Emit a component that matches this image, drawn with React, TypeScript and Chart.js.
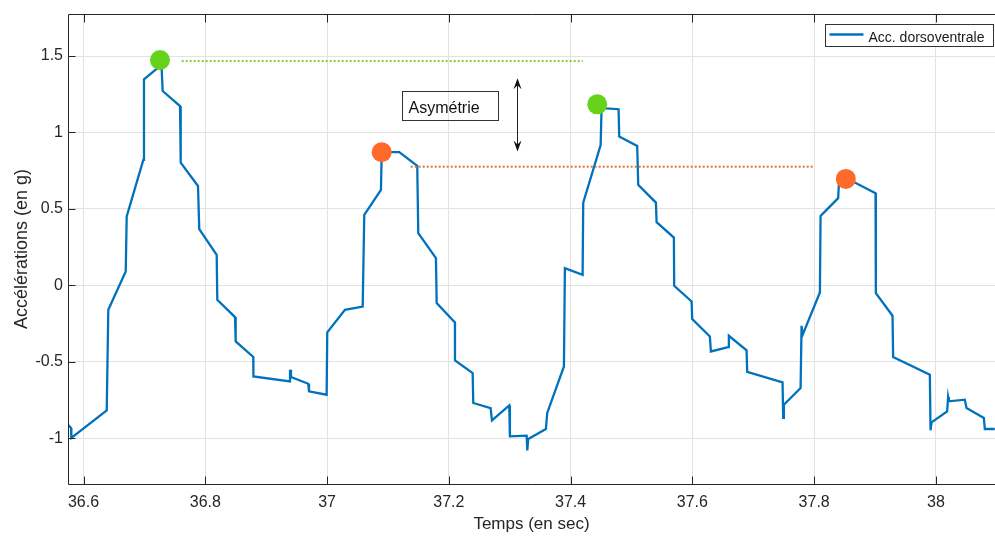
import React, { useEffect, useRef } from "react";
import { Chart, registerables } from "chart.js";

Chart.register(...registerables);

// ---- data ----
const times = [
  36.5745, 36.5795, 36.58, 36.6381, 36.6407, 36.6693, 36.6709, 36.6982, 36.6993, 36.7245,
  36.7284, 36.73, 36.7585, 36.7596, 36.788, 36.7901, 36.8187, 36.8197, 36.8488, 36.8499,
  36.8788, 36.879, 36.9391, 36.9392, 36.9407, 36.9691, 36.9703, 36.9993, 37.0003, 37.0294,
  37.0585, 37.0611, 37.0885, 37.0897, 37.1186, 37.1481, 37.1498, 37.1788, 37.18, 37.21,
  37.2101, 37.2391, 37.2401, 37.2686, 37.2708, 37.2992, 37.3003, 37.3278, 37.3288, 37.3304,
  37.3594, 37.3616, 37.389, 37.3906, 37.4197, 37.4207, 37.4493, 37.4509, 37.458, 37.4788,
  37.4798, 37.5094, 37.511, 37.5401, 37.5412, 37.5696, 37.5701, 37.5987, 37.5997, 37.6287,
  37.6304, 37.6588, 37.6599, 37.689, 37.69, 37.7481, 37.7491, 37.7503, 37.7777, 37.7793,
  37.781, 37.8094, 37.8105, 37.8394, 37.8411, 37.8667, 37.9008, 37.9013, 37.9287, 37.9297,
  37.99, 37.9911, 37.9928, 38.0184, 38.02, 38.0212, 38.0474, 38.0502, 38.0787, 38.0803, 38.0967,
];
const accel = [
  -0.912, -0.933, -0.999, -0.818, -0.16, 0.09, 0.45, 0.82, 1.348, 1.43,
  1.41, 1.271, 1.173, 0.803, 0.65, 0.367, 0.199, -0.095, -0.208, -0.367,
  -0.469, -0.596, -0.629, -0.552, -0.6, -0.644, -0.694, -0.716, -0.308, -0.16,
  -0.139, 0.461, 0.624, 0.871, 0.871, 0.781, 0.341, 0.178, -0.116, -0.243,
  -0.492, -0.574, -0.77, -0.803, -0.884, -0.786, -0.988, -0.984, -1.08, -1.005,
  -0.94, -0.835, -0.531, 0.112, 0.069, 0.541, 0.918, 1.169, 1.158, 1.152,
  0.973, 0.912, 0.657, 0.541, 0.413, 0.312, -0.003, -0.106, -0.221, -0.335,
  -0.433, -0.404, -0.33, -0.426, -0.567, -0.635, -0.868, -0.781, -0.672, -0.265,
  -0.324, -0.047, 0.454, 0.57, 0.701, 0.672, 0.603, -0.051, -0.199, -0.469,
  -0.585, -0.949, -0.897, -0.825, -0.731, -0.759, -0.748, -0.803, -0.868, -0.94, -0.94,
];
const greenPeakT = [36.7256, 37.4437];
const greenPeakV = [1.474, 1.184];
const orangePeakT = [37.0897, 37.852];
const orangePeakV = [0.871, 0.696];
const greenRefT = [36.7612, 37.4199];
const greenRefV = [1.467, 1.467];
const orangeRefT = [37.1373, 37.7984];
const orangeRefV = [0.776, 0.776];
const xTicks = [36.6, 36.8, 37, 37.2, 37.4, 37.6, 37.8, 38];
const yTicks = [-1, -0.5, 0, 0.5, 1, 1.5];
const xRange = [36.5745, 38.097];
const yRange = [-1.3, 1.775];
const seriesLabel = "Acc. dorsoventrale";
const xTitle = "Temps (en sec)";
const yTitle = "Accélérations (en g)";
const noteText = "Asymétrie";
const noteAnchor = [37.1225, 1.271]; // top-left of the text box (data units)
const arrowT = 37.3113;
const arrowV = [1.354, 0.875];

// ---- styles ----
const FONT = '"Liberation Sans", Arial, Helvetica, sans-serif';
const INK = "#262626";
const BLUE = "#0072BD";
const GREEN = "#66d21a";
const ORANGE = "#ff6a2a";
const GREEN_DOT = "#7ccf2e";
const ORANGE_DOT = "#e0733a";
const GRID = "#e2e2e2";

const fmt = (v: number) => String(Number(v.toFixed(2)));

function arrowHead(ctx: CanvasRenderingContext2D, x: number, y: number, dir: number) {
  const len = 11, notch = 7, half = 4;
  ctx.beginPath();
  ctx.moveTo(x, y);
  ctx.lineTo(x - half, y + dir * len);
  ctx.lineTo(x, y + dir * notch);
  ctx.lineTo(x + half, y + dir * len);
  ctx.closePath();
  ctx.fill();
}

const decorPlugin = {
  id: "decor",
  afterDatasetsDraw(chart: any) {
    const { ctx, chartArea: a, scales } = chart;
    const xs = scales.x;
    const ys = scales.y;
    ctx.save();

    // annotation box
    const bx = Math.round(xs.getPixelForValue(noteAnchor[0])) + 0.5;
    const by = Math.round(ys.getPixelForValue(noteAnchor[1])) + 0.5;
    const bw = 96, bh = 29;
    ctx.strokeStyle = "#333";
    ctx.lineWidth = 1;
    ctx.strokeRect(bx, by, bw, bh);
    ctx.fillStyle = "#111";
    ctx.font = `16px ${FONT}`;
    ctx.textAlign = "left";
    ctx.textBaseline = "alphabetic";
    ctx.fillText(noteText, bx + 6, by + 21);

    // double arrow
    const ax = Math.round(xs.getPixelForValue(arrowT)) + 0.5;
    const ay1 = ys.getPixelForValue(arrowV[0]);
    const ay2 = ys.getPixelForValue(arrowV[1]);
    ctx.strokeStyle = "#222";
    ctx.fillStyle = "#111";
    ctx.beginPath();
    ctx.moveTo(ax, ay1 + 6);
    ctx.lineTo(ax, ay2 - 6);
    ctx.stroke();
    arrowHead(ctx, ax, ay1, 1);
    arrowHead(ctx, ax, ay2, -1);

    // axes frame + inward ticks
    const L = Math.round(a.left) + 0.5;
    const T = Math.round(a.top) + 0.5;
    const B = Math.round(a.bottom) + 0.5;
    const R = a.right + 2;
    ctx.strokeStyle = INK;
    ctx.lineWidth = 1;
    ctx.beginPath();
    ctx.moveTo(R, T);
    ctx.lineTo(L, T);
    ctx.lineTo(L, B);
    ctx.lineTo(R, B);
    for (const v of xTicks) {
      const px = Math.round(xs.getPixelForValue(v)) + 0.5;
      ctx.moveTo(px, B);
      ctx.lineTo(px, B - 8);
      ctx.moveTo(px, T);
      ctx.lineTo(px, T + 8);
    }
    for (const v of yTicks) {
      const py = Math.round(ys.getPixelForValue(v)) + 0.5;
      ctx.moveTo(L, py);
      ctx.lineTo(L + 7, py);
    }
    ctx.stroke();

    // legend (inside, top right)
    const lw = 168, lh = 22;
    const lx = Math.round(a.right - 2 - lw) + 0.5;
    const ly = Math.round(a.top + 10) + 0.5;
    ctx.fillStyle = "#fff";
    ctx.fillRect(lx, ly, lw, lh);
    ctx.strokeStyle = "#333";
    ctx.strokeRect(lx, ly, lw, lh);
    ctx.strokeStyle = BLUE;
    ctx.lineWidth = 2.5;
    ctx.beginPath();
    ctx.moveTo(lx + 4, ly + 10);
    ctx.lineTo(lx + 38, ly + 10);
    ctx.stroke();
    ctx.fillStyle = "#1a1a1a";
    ctx.font = `14px ${FONT}`;
    ctx.fillText(seriesLabel, lx + 43, ly + 17);

    ctx.restore();
  },
};

export default function App() {
  const ref = useRef<HTMLCanvasElement>(null);

  useEffect(() => {
    const canvas = ref.current;
    if (!canvas) return;
    const line = times.map((t, i) => ({ x: t, y: accel[i] }));
    const green = greenPeakT.map((t, i) => ({ x: t, y: greenPeakV[i] }));
    const orange = orangePeakT.map((t, i) => ({ x: t, y: orangePeakV[i] }));
    const gRef = greenRefT.map((t, i) => ({ x: t, y: greenRefV[i] }));
    const oRef = orangeRefT.map((t, i) => ({ x: t, y: orangeRefV[i] }));

    const tickFont = { family: FONT, size: 16 };

    const chart = new Chart(canvas, {
      type: "scatter",
      data: {
        datasets: [
          {
            label: "max",
            data: green,
            showLine: false,
            pointRadius: 10,
            pointBackgroundColor: GREEN,
            pointBorderWidth: 0,
            order: 0,
          },
          {
            label: "min",
            data: orange,
            showLine: false,
            pointRadius: 10,
            pointBackgroundColor: ORANGE,
            pointBorderWidth: 0,
            order: 0,
          },
          {
            label: "refMax",
            data: gRef,
            showLine: true,
            pointRadius: 0,
            borderColor: GREEN_DOT,
            borderWidth: 2,
            borderDash: [2, 2],
            order: 1,
          },
          {
            label: "refMin",
            data: oRef,
            showLine: true,
            pointRadius: 0,
            borderColor: ORANGE_DOT,
            borderWidth: 2,
            borderDash: [2, 2],
            order: 1,
          },
          {
            label: seriesLabel,
            data: line,
            showLine: true,
            pointRadius: 0,
            borderColor: BLUE,
            borderWidth: 2.3,
            tension: 0,
            order: 2,
          },
        ],
      },
      options: {
        responsive: false,
        animation: false,
        devicePixelRatio: 1,
        events: [],
        layout: { autoPadding: false, padding: { top: 14, right: 0, left: 0, bottom: 0 } },
        plugins: {
          legend: { display: false },
          tooltip: { enabled: false },
        },
        scales: {
          x: {
            type: "linear",
            min: xRange[0],
            max: xRange[1],
            afterBuildTicks: (s: any) => {
              s.ticks = xTicks.map((v) => ({ value: v }));
            },
            afterFit: (s: any) => {
              s.height = 52;
              s.paddingLeft = 0;
              s.paddingRight = 0;
            },
            grid: { color: GRID, drawTicks: false },
            border: { display: false },
            ticks: {
              padding: 9,
              maxRotation: 0,
              autoSkip: false,
              color: INK,
              font: tickFont,
              callback: (v: any) => fmt(Number(v)),
            },
            title: {
              display: true,
              text: xTitle,
              color: INK,
              font: { family: FONT, size: 17 },
              padding: { top: 0, bottom: 1 },
            },
          },
          y: {
            type: "linear",
            min: yRange[0],
            max: yRange[1],
            afterBuildTicks: (s: any) => {
              s.ticks = yTicks.map((v) => ({ value: v }));
            },
            afterFit: (s: any) => {
              s.width = 68;
              s.paddingTop = 0;
              s.paddingBottom = 0;
            },
            grid: { color: GRID, drawTicks: false },
            border: { display: false },
            ticks: {
              padding: 5,
              autoSkip: false,
              color: INK,
              font: tickFont,
              callback: (v: any) => fmt(Number(v)),
            },
            title: {
              display: true,
              text: yTitle,
              color: INK,
              font: { family: FONT, size: 18 },
              padding: { top: 11, bottom: 0 },
            },
          },
        },
      } as any,
      plugins: [decorPlugin],
    });
    return () => chart.destroy();
  }, []);

  return (
    <div style={{ position: "absolute", left: 0, top: 0, width: 995, height: 536, background: "#fff" }}>
      <canvas ref={ref} width={995} height={536} style={{ display: "block" }} />
    </div>
  );
}
